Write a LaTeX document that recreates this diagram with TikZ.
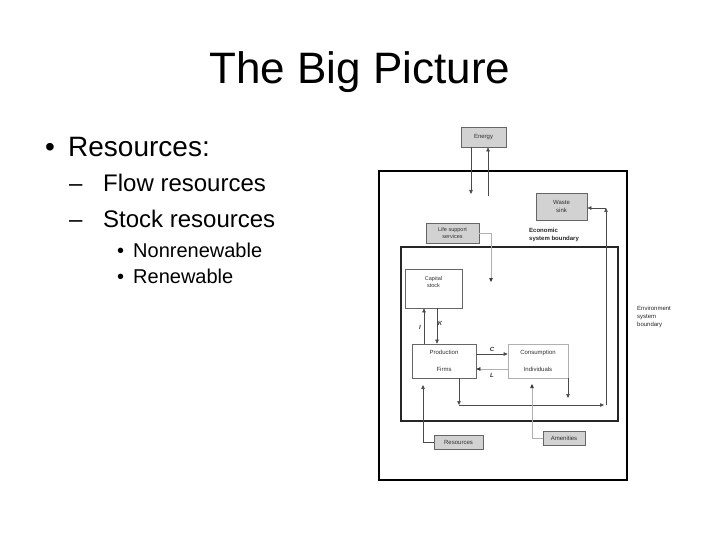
\documentclass[tikz,border=0pt]{standalone}
\usepackage{fontspec}
\setmainfont{Liberation Sans}
\usetikzlibrary{arrows.meta}
\definecolor{boxfill}{HTML}{D2D2D2}
\definecolor{boxline}{HTML}{666666}
\definecolor{flow}{HTML}{4A4A4A}
\definecolor{light}{HTML}{B0B0B0}
\definecolor{dtext}{HTML}{303030}
\tikzset{
  gbox/.style={draw=boxline, fill=boxfill, line width=0.8pt, inner sep=0pt, align=center,
    font=\fontsize{6}{7.5}\selectfont, text=dtext},
  wbox/.style={draw=boxline, fill=white, line width=0.6pt, inner sep=0pt, align=center,
    font=\fontsize{6}{7.5}\selectfont, text=dtext},
  arr/.style={draw=flow, line width=0.6pt, -{Triangle[length=4pt,width=3.5pt]}},
  larr/.style={draw=light, line width=0.6pt, -{Triangle[length=4pt,width=3.5pt,color=black!80]}},
  lab/.style={font=\fontsize{6}{7}\selectfont\bfseries\itshape, text=dtext, inner sep=0pt},
  bl/.style={anchor=base west, inner sep=0pt},
}
\begin{document}
\begin{tikzpicture}[x=1pt,y=-1pt]
\useasboundingbox (0,0) rectangle (720,540);
% title and bullets
\node[anchor=base, inner sep=0pt, font=\fontsize{44}{50}\selectfont] (title) at (360,84) {The Big Picture};
\node[bl, font=\fontsize{28}{32}\selectfont] (b1) at (45,157) {•};
\node[bl, font=\fontsize{28}{32}\selectfont] (t1) at (68,157) {Resources:};
\node[bl, font=\fontsize{24}{28}\selectfont] (d1) at (69,192) {–};
\node[bl, font=\fontsize{24}{28}\selectfont] (t2) at (103,192) {Flow resources};
\node[bl, font=\fontsize{24}{28}\selectfont] (d2) at (69,227) {–};
\node[bl, font=\fontsize{24}{28}\selectfont] (t3) at (103,227) {Stock resources};
\node[bl, font=\fontsize{20}{24}\selectfont] (b2) at (117,257) {•};
\node[bl, font=\fontsize{20}{24}\selectfont] (t4) at (133,257) {Nonrenewable};
\node[bl, font=\fontsize{20}{24}\selectfont] (b3) at (117,283) {•};
\node[bl, font=\fontsize{20}{24}\selectfont] (t5) at (133,283) {Renewable};
% boundaries
\draw[black, line width=1.6pt] (379,171) rectangle (627,480);
\draw[black!85, line width=1.1pt] (401,247) rectangle (618,421);
\node[anchor=north west, inner sep=0pt, align=left, font=\fontsize{6}{7.5}\selectfont\bfseries, text=black!85] (econ) at (529,228) {Economic\\system boundary};
\node[anchor=north west, inner sep=0pt, align=left, font=\fontsize{6}{8}\selectfont, text=black!85] (env) at (637,306) {Environment\\system\\boundary};
% boxes
\node[gbox, minimum width=45pt, minimum height=20pt] (energy) at (483.5,137) {Energy};
\node[gbox, minimum width=51pt, minimum height=27pt] (waste) at (561.5,206.5) {Waste\\sink};
\node[gbox, minimum width=53pt, minimum height=20pt, font=\fontsize{5.5}{7}\selectfont] (life) at (452.5,233) {Life support\\services};
\node[wbox, minimum width=57pt, minimum height=39pt,
  label={[anchor=north, yshift=-4pt, align=center, font=\fontsize{5.5}{7.5}\selectfont, text=dtext]north:Capital\\stock}] (cap) at (433.5,288.5) {};
\node[wbox, minimum width=64pt, minimum height=34pt] (prod) at (444,361) {Production\\[9pt]Firms};
\node[wbox, draw=light, minimum width=60pt, minimum height=34pt] (cons) at (538,361) {Consumption\\[9pt]Individuals};
\node[gbox, minimum width=49pt, minimum height=14pt] (res) at (458.5,442) {Resources};
\node[gbox, minimum width=42pt, minimum height=14pt] (amen) at (564,438) {Amenities};
% coordinates
\coordinate (e1) at (471,194);
\coordinate (e2) at (488,196);
\coordinate (wc) at (606,208);
\coordinate (wb) at (606,405);
\coordinate (fb) at (459,405);
\coordinate (be) at (604,405);
\coordinate (cd) at (568,398);
\coordinate (lc) at (491,282);
\coordinate (ix) at (424,326);
\coordinate (kx) at (437,326);
\coordinate (cy) at (492,354);
\coordinate (ly) at (492,369);
\coordinate (ru) at (423,385);
\coordinate (au) at (532,384);
% flows
\draw[arr] (e1 |- energy.south) -- (e1);
\draw[arr] (e2) -- (e2 |- energy.south);
\draw[arr] (wb) -- (wc);
\draw[arr] (wc) -- (waste.east |- wc);
\draw[arr] (fb |- prod.south) -- (fb);
\draw[arr] (fb) -- (be);
\draw[arr] (cd |- cons.south) -- (cd);
\draw[larr] (life.east) -| (lc);
\draw[arr] (ix |- prod.north) -- (ix |- cap.south);
\draw[arr] (kx |- cap.south) -- (kx |- prod.north);
\draw[arr] (prod.east |- cy) -- (cons.west |- cy);
\draw[larr] (cons.west |- ly) -- (prod.east |- ly);
\draw[arr] (res.west) -| (ru);
\draw[larr] (amen.west) -| (au);
% labels
\node[lab] (lI) at (420,327) {I};
\node[lab] (lK) at (440,323) {K};
\node[lab] (lC) at (492,349) {C};
\node[lab] (lL) at (492,375) {L};
\end{tikzpicture}
\end{document}
